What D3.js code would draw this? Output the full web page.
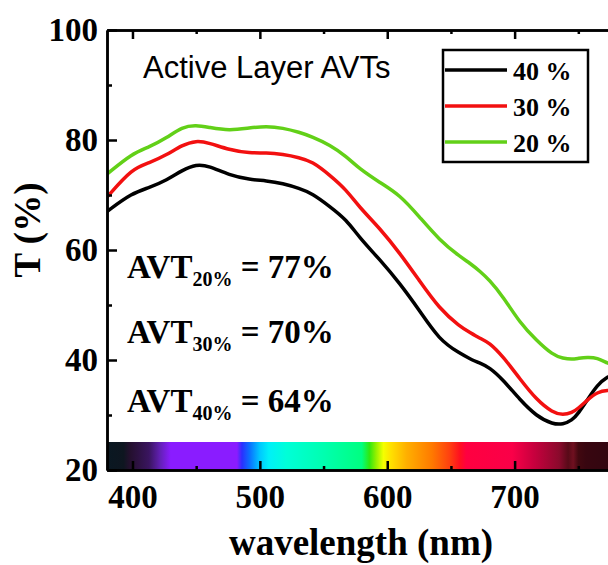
<!DOCTYPE html>
<html lang="en">
<head>
<meta charset="UTF-8">
<title>Active Layer AVTs</title>
<style>
body { margin: 0; background: #fff; }
.axis path, .axis line { stroke: #000; stroke-width: 2.5px; }
.axis text { font: bold 33px "Liberation Serif", "Times New Roman", serif; fill: #000; }
.curve { fill: none; stroke-width: 3.5px; }
.serif { font-family: "Liberation Serif", "Times New Roman", serif; font-weight: bold; }
</style>
</head>
<body>
<script src="https://cdnjs.cloudflare.com/ajax/libs/d3/7.8.5/d3.min.js"></script>
<script>
// wavelength grid (nm) shared by the three curves
var wavelength = [380, 400, 413, 427, 439, 450, 460, 476, 492, 505, 518, 531, 541, 555, 568, 578,
  594, 610, 625, 641, 657, 665, 673, 680, 691, 704, 717, 730, 738, 745, 750, 757, 765, 773, 780];
var t40 = [67.0, 70.4, 71.3, 72.7, 74.5, 75.6, 75.3, 73.6, 72.8, 72.6, 72.1, 71.2, 70.3, 67.9, 65.5, 62.3,
  58.3, 53.9, 49.1, 43.6, 41.2, 40.2, 39.4, 38.7, 36.4, 32.8, 29.8, 28.3, 28.3, 29.0, 30.3, 32.7, 35.5, 37.0, 37.6];
var t30 = [69.6, 74.9, 75.8, 77.3, 79.1, 79.9, 79.5, 78.2, 77.6, 77.7, 77.4, 76.8, 76.1, 73.6, 70.9, 67.8,
  64.0, 59.4, 54.5, 49.3, 46.1, 45.0, 43.9, 43.2, 40.6, 36.6, 32.8, 30.4, 30.0, 30.4, 31.2, 32.7, 34.2, 34.5, 34.4];
var t20 = [73.8, 77.6, 78.7, 80.4, 82.4, 82.7, 82.3, 81.7, 82.2, 82.5, 82.2, 81.4, 80.6, 79.1, 77.0, 74.8,
  72.3, 70.0, 66.1, 61.8, 58.8, 57.6, 56.1, 54.6, 51.5, 46.8, 43.6, 40.9, 40.3, 40.1, 40.3, 40.5, 40.4, 39.4, 38.8];

var seriesNames = ["40 %", "30 %", "20 %"];
var seriesColors = ["#000000", "#f21010", "#62d018"];

var avtLabels = ["20%", "30%", "40%"];
var avtValues = ["77%", "70%", "64%"];

var yTicks = [20, 40, 60, 80, 100];
var xTicks = [400, 500, 600, 700];

// visible spectrum strip drawn along the bottom axis
var spectrumWl = [380, 393, 398, 405, 413, 422, 430, 482, 486, 492, 500, 507, 521, 550, 580, 586, 591,
  597, 603, 615, 635, 649, 657, 662, 698, 715, 735, 742, 746, 750, 756, 800];
var spectrumColor = ["#0a1822", "#0e1620", "#24102e", "#2e1244", "#3a1560", "#6420b8", "#8a1cff", "#8a1cff",
  "#2a30ff", "#0a70ff", "#00c8ff", "#00f0f8", "#00ffd8", "#00ffb0", "#00ff80", "#30e810", "#90f000",
  "#f4ff00", "#ffe000", "#ffb000", "#ff7a00", "#ff4010", "#ff1020", "#ff0040", "#fa0048", "#c8003e",
  "#8a0a2c", "#580a18", "#701020", "#420810", "#380610", "#2a0610"];

var width = 608, height = 565;
var svg = d3.select("body").append("svg")
  .attr("width", width).attr("height", height);

var x = d3.scaleLinear().domain([380, 800]).range([107, 642]);
var y = d3.scaleLinear().domain([20, 100]).range([470, 30]);

var defs = svg.append("defs");
defs.append("clipPath").attr("id", "plot")
  .append("rect").attr("x", x(380)).attr("y", y(100))
  .attr("width", x(800) - x(380)).attr("height", y(20) - y(100));

var grad = defs.append("linearGradient").attr("id", "spectrum")
  .attr("gradientUnits", "userSpaceOnUse")
  .attr("x1", x(380)).attr("x2", x(800)).attr("y1", 0).attr("y2", 0);
grad.selectAll("stop").data(spectrumWl).enter().append("stop")
  .attr("offset", d => (d - 380) / (800 - 380))
  .attr("stop-color", (d, i) => spectrumColor[i]);

svg.append("rect")
  .attr("x", x(380)).attr("y", 442)
  .attr("width", x(800) - x(380)).attr("height", y(20) - 442)
  .attr("fill", "url(#spectrum)");

// curves
var allSeries = [t40, t30, t20];
var line = d3.line()
  .x((d, i) => x(wavelength[i]))
  .y(d => y(d))
  .curve(d3.curveBasis);

svg.append("g").attr("clip-path", "url(#plot)")
  .selectAll("path").data(allSeries).enter().append("path")
  .attr("class", "curve")
  .attr("stroke", (d, i) => seriesColors[i])
  .attr("d", line);

// axes, ticks pointing inward
function axisG(cls) { return svg.append("g").attr("class", "axis " + cls); }

axisG("y").attr("transform", "translate(" + x(380) + ",0)")
  .call(d3.axisLeft(y).tickValues(yTicks).tickSize(-10).tickSizeOuter(0).tickPadding(9).tickFormat(d3.format("d")));
axisG("y-minor").attr("transform", "translate(" + x(380) + ",0)")
  .call(d3.axisLeft(y).tickValues([30, 50, 70, 90]).tickSize(-5).tickSizeOuter(0).tickFormat(""));

axisG("x").attr("transform", "translate(0," + y(20) + ")")
  .call(d3.axisBottom(x).tickValues(xTicks).tickSize(-9).tickSizeOuter(0).tickPadding(15).tickFormat(d3.format("d")));
axisG("x-minor").attr("transform", "translate(0," + y(20) + ")")
  .call(d3.axisBottom(x).tickValues([450, 550, 650, 750]).tickSize(-4).tickSizeOuter(0).tickFormat(""));

axisG("top").attr("transform", "translate(0," + y(100) + ")")
  .call(d3.axisTop(x).tickValues(xTicks).tickSize(-9).tickSizeOuter(0).tickFormat(""));
axisG("top-minor").attr("transform", "translate(0," + y(100) + ")")
  .call(d3.axisTop(x).tickValues([450, 550, 650, 750]).tickSize(-4).tickSizeOuter(0).tickFormat(""));

// axis titles
svg.append("text").attr("class", "serif")
  .attr("x", 361).attr("y", 555)
  .attr("text-anchor", "middle")
  .style("font-size", "37px")
  .text("wavelength (nm)");

svg.append("text").attr("class", "serif")
  .attr("transform", "translate(40,230) rotate(-90)")
  .attr("text-anchor", "middle")
  .style("font-size", "37px")
  .text("T (%)");

// title inside plot
svg.append("text")
  .attr("x", 143).attr("y", 78)
  .style("font", "31px 'Liberation Sans', Arial, sans-serif")
  .text("Active Layer AVTs");

// AVT annotations
var avtBase = [278, 343, 412];
var avt = svg.selectAll("text.avt").data(avtLabels).enter().append("text")
  .attr("class", "avt serif")
  .attr("x", 127).attr("y", (d, i) => avtBase[i])
  .style("font-size", "33px");
avt.append("tspan").text("AVT");
avt.append("tspan").attr("dy", 8).style("font-size", "20px").text(d => d);
avt.append("tspan").attr("dy", -8).text((d, i) => " = " + avtValues[i]);

// legend
var legend = svg.append("g").attr("transform", "translate(443,50)");
legend.append("rect").attr("width", 145).attr("height", 112)
  .attr("fill", "#fff").attr("stroke", "#000").attr("stroke-width", 2.5);
var item = legend.selectAll("g.item").data(seriesNames).enter().append("g")
  .attr("class", "item")
  .attr("transform", (d, i) => "translate(0," + (20 + i * 36) + ")");
item.append("line").attr("x1", 2).attr("x2", 64)
  .attr("stroke", (d, i) => seriesColors[i]).attr("stroke-width", 3.5);
item.append("text").attr("class", "serif")
  .attr("x", 70).attr("y", 10)
  .style("font-size", "26px")
  .text(d => d);
</script>
</body>
</html>
